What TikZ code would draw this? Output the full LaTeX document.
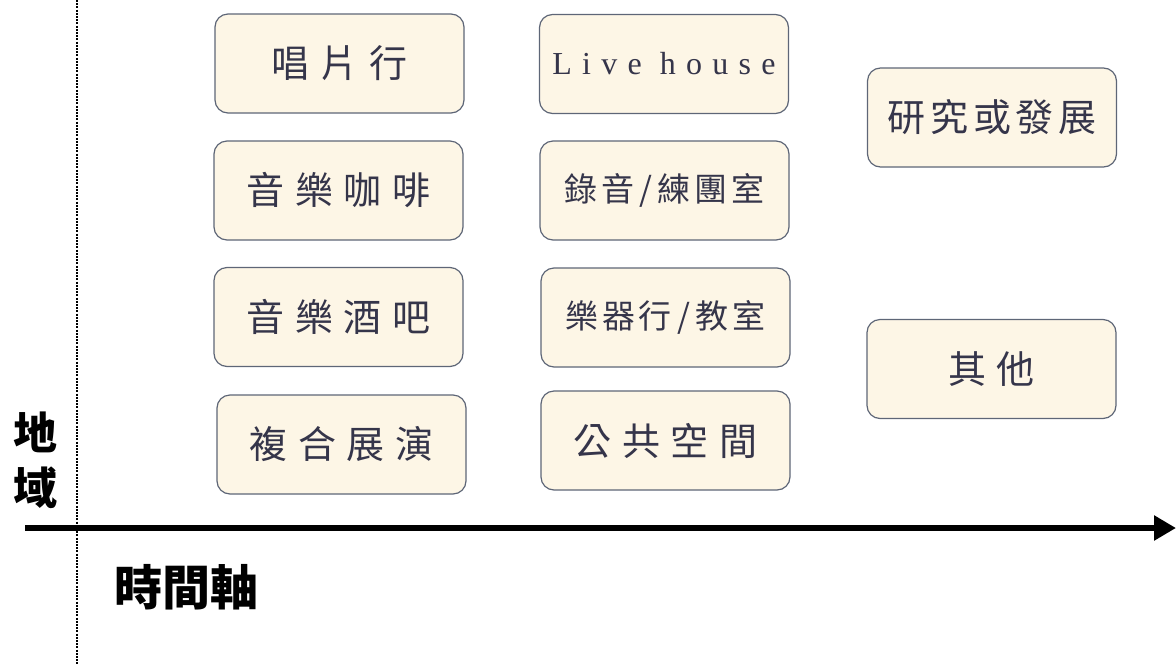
\documentclass[tikz,border=0pt]{standalone}
\usepackage{fontspec}
\usetikzlibrary{arrows.meta}
\newfontfamily\cjkbox[LetterSpace=28]{Noto Sans CJK TC}
\newfontfamily\cjkboxb[LetterSpace=12]{Noto Sans CJK TC}
\newfontfamily\cjkplain{Noto Sans CJK TC}
\newfontfamily\livefont[LetterSpace=32]{Liberation Serif}
\definecolor{boxfill}{HTML}{FDF6E6}
\definecolor{boxline}{HTML}{5E6677}
\definecolor{boxtext}{HTML}{35354A}
\begin{document}
\begin{tikzpicture}[x=1pt,y=-1pt,
  card/.style={draw=boxline,line width=1.2pt,fill=boxfill,rounded corners=13pt,
    minimum width=249pt,minimum height=99pt,inner sep=0pt,text=boxtext,anchor=center},
  bigtxt/.style={font=\cjkbox\fontsize{38}{40}\selectfont},
  midtxt/.style={font=\cjkboxb\fontsize{33}{36}\selectfont},
  axislabel/.style={font=\cjkplain\bfseries\fontsize{44}{48}\selectfont,text=black,inner sep=0pt}]
\useasboundingbox (0,0) rectangle (1176,665);
% column 1
\node[card,bigtxt] (c1a) at (339.5,63.5) {唱片行};
\node[card,bigtxt] (c1b) at (338.5,190.5) {音樂咖啡};
\node[card,bigtxt] (c1c) at (338.5,317) {音樂酒吧};
\node[card,bigtxt] (c1d) at (341.5,444.5) {複合展演};
% column 2
\node[card,font=\livefont\fontsize{32}{34}\selectfont] (c2a) at (664,64) {Live house};
\node[card,midtxt] (c2b) at (664.5,190.5) {錄音\,/\,練團室};
\node[card,midtxt] (c2c) at (665.5,317.5) {樂器行\,/\,教室};
\node[card,bigtxt] (c2d) at (665.5,440.5) {公共空間};
% column 3
\node[card,font=\cjkboxb\fontsize{38}{40}\selectfont] (c3a) at (992,117.5) {研究或發展};
\node[card,bigtxt] (c3b) at (991.5,369) {其他};
% axes
\coordinate (vtop) at (77,0);
\coordinate (vbot) at (77,665);
\draw[line width=2.5pt,dash pattern=on 2pt off 1.2pt] (vtop) -- (vbot);
\coordinate (hstart) at (25,528);
\coordinate (hend) at (1176,528);
\draw[line width=6pt,-{Triangle[length=22pt,width=24pt]}] (hstart) -- (hend);
\node[axislabel] (di) at (35,432) {地};
\node[axislabel] (yu) at (35,488) {域};
\node[axislabel,font=\cjkplain\bfseries\fontsize{48}{52}\selectfont] (time) at (186,587) {時間軸};
\end{tikzpicture}
\end{document}
